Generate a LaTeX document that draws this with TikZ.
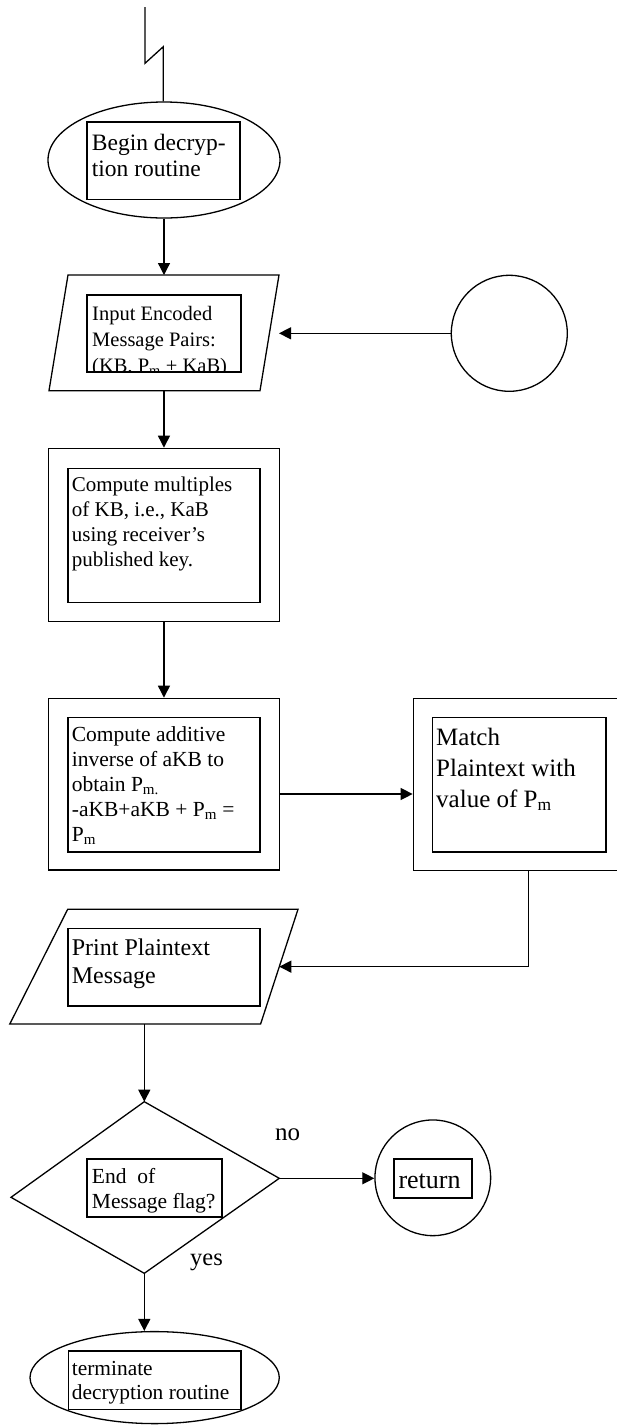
\documentclass[tikz,border=0pt]{standalone}
\usepackage{fontspec}
\setmainfont{Liberation Serif}
\usetikzlibrary{arrows.meta,shapes.geometric}
\newcommand{\setfs}[2]{\fontsize{#1pt}{#2pt}\selectfont}
\newcommand{\txtlines}[1]{\parbox[t]{8cm}{\raggedright #1}}
\tikzset{
  ln/.style={line width=1.3pt},
  arr/.style={ln,-{Triangle[length=12pt,width=12pt]}},
  outer/.style={draw,ln,inner sep=0pt},
  inbox/.style={draw,line width=1.6pt,rectangle,inner sep=0pt},
  txt/.style={anchor=base west,inner sep=0pt},
}
\begin{document}
\begin{tikzpicture}[x=1pt,y=-1pt]
\useasboundingbox (0,0) rectangle (617,1425);
\clip (0,0) rectangle (617,1425);

% --- start: lightning connector
\coordinate (z0) at (145,7);
\coordinate (z1) at (145,63.3);
\coordinate (z2) at (163.3,46.7);

% --- begin terminal
\node[outer,ellipse,minimum width=232pt,minimum height=116pt] (begin) at (164,160) {};
\node[inbox,minimum width=153pt,minimum height=77.6pt] (binbox) at (163.5,160.5) {};

% --- input parallelogram
\coordinate (iTL) at (68,275);
\coordinate (iTR) at (279,275);
\coordinate (iBR) at (260,390.7);
\coordinate (iBL) at (49,390.7);
\draw[ln,line join=miter] (iTL) -- (iTR) -- (iBR) -- (iBL) -- cycle;
\node[inbox,minimum width=154pt,minimum height=77pt] (iinbox) at (164,333.5) {};

\node[outer,circle,minimum size=116pt] (circ) at (509.3,333.3) {};

% --- process boxes
\node[outer,rectangle,minimum width=231.1pt,minimum height=173.4pt] (comp) at (163.95,535) {};
\node[inbox,minimum width=192.1pt,minimum height=134pt] (cinbox) at (163.75,535.3) {};

\node[outer,rectangle,minimum width=231.1pt,minimum height=171.7pt] (add) at (163.95,784.15) {};
\node[inbox,minimum width=192.1pt,minimum height=134.4pt] (ainbox) at (163.75,784.5) {};

\node[outer,rectangle,minimum width=211.7pt,minimum height=172.2pt] (match) at (519.15,784.4) {};
\node[inbox,minimum width=173.4pt,minimum height=134.2pt] (minbox) at (519,784.6) {};

% --- print (output) shape
\coordinate (pTL) at (67.7,909.3);
\coordinate (pTR) at (298,909.3);
\coordinate (pBR) at (260.6,1024);
\coordinate (pBL) at (9.8,1024);
\coordinate (pR) at (279.3,966.65);
\draw[ln,line join=miter] (pTL) -- (pTR) -- (pBR) -- (pBL) -- cycle;
\node[inbox,minimum width=192.1pt,minimum height=77.7pt] (pinbox) at (163.75,967.15) {};

% --- decision
\coordinate (dT) at (144.3,1101.7);
\coordinate (dR) at (279.3,1178.3);
\coordinate (dB) at (144.3,1273.3);
\coordinate (dL) at (11,1197.3);
\draw[ln,line join=miter] (dT) -- (dR) -- (dB) -- (dL) -- cycle;
\node[inbox,fill=white,minimum width=135pt,minimum height=57.7pt] (einbox) at (154.2,1187.85) {};

\node[outer,circle,minimum size=115.7pt] (ret) at (432.8,1177.8) {};
\node[inbox,minimum width=77.7pt,minimum height=38.7pt] (rinbox) at (432.85,1178.35) {};

\node[outer,ellipse,minimum width=249.3pt,minimum height=92pt] (term) at (154.65,1377.6) {};
\node[inbox,minimum width=172.4pt,minimum height=58.3pt] (tinbox) at (154.5,1380.15) {};

% --- texts
\node[txt] (tbegin) at (91.7,150) {\setfs{23.5}{26.7}\txtlines{Begin decryp-\\tion routine}};
\begin{scope}
  \clip (iinbox.south west) rectangle (iinbox.north east);
  \node[txt] (tinp) at (92,320) {\setfs{20.5}{26}\txtlines{Input Encoded\\Message Pairs:\\(KB, P\textsubscript{m} + KaB)}};
\end{scope}
\node[txt] (tcomp) at (71.7,491.7) {\setfs{21}{25}\txtlines{Compute multiples\\of KB, i.e., KaB\\using receiver's\\published key.}};
\node[txt] (tadd) at (71.7,741.7) {\setfs{21.5}{25}\txtlines{Compute additive\\inverse of aKB to\\obtain P\textsubscript{m.}\\-aKB+aKB + P\textsubscript{m} =\\P\textsubscript{m}}};
\node[txt] (tmatch) at (436,745) {\setfs{25}{31}\txtlines{Match\\Plaintext with\\value of P\textsubscript{m}}};
\node[txt] (tprt) at (71.7,955) {\setfs{24}{28}\txtlines{Print Plaintext\\Message}};
\node[txt] (tend) at (91.7,1183.3) {\setfs{21.5}{25}\txtlines{End\ \ of\\Message flag?}};
\node[txt] (tret) at (398.3,1188.3) {\setfs{26}{30}return};
\node[txt] (tterm) at (71.7,1375) {\setfs{21.4}{24.3}\txtlines{terminate\\decryption routine}};
\node[txt] (lno) at (275,1140.7) {\setfs{25}{30}no};
\node[txt] (lyes) at (190,1265) {\setfs{24.5}{30}yes};

% --- connectors
\draw[ln] (z0) -- (z1) -- (z2) -- (z2 |- begin.north);
\draw[arr] (begin.south) -- (begin.south |- iTL);
\draw[arr] (circ.west) -- (circ.west -| iTR);
\draw[arr] (comp.north |- iBL) -- (comp.north);
\draw[arr] (comp.south) -- (add.north);
\draw[arr] ([yshift=-9.85pt]add.east) -- ([yshift=-9.85pt]add.east -| match.west);
\draw[arr] ([xshift=9.35pt]match.south) |- (pR);
\draw[arr] (dT |- pBL) -- (dT);
\draw[arr] (dR) -- (dR -| ret.west);
\draw[arr] (dB) -- (dB |- term.north);
\end{tikzpicture}
\end{document}
